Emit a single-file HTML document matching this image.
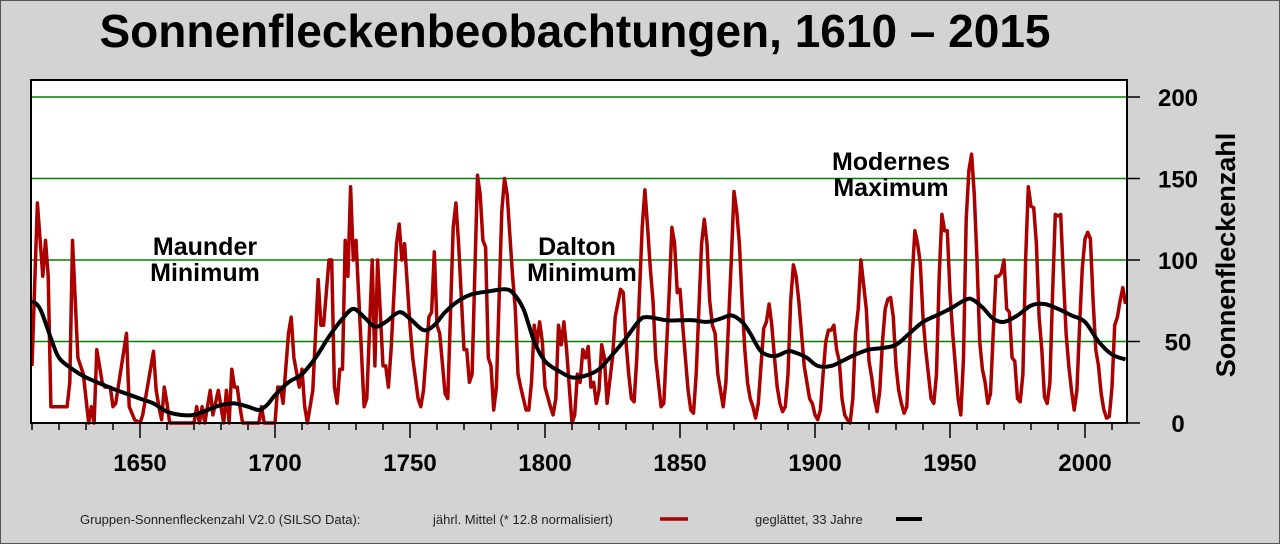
<!DOCTYPE html>
<html><head><meta charset="utf-8"><style>
html,body{margin:0;padding:0;background:#d3d3d3}
svg{display:block}
text{font-family:"Liberation Sans",sans-serif}
</style></head><body>
<svg id="s" width="1280" height="544" xmlns="http://www.w3.org/2000/svg">
<rect x="0.5" y="0.5" width="1279" height="543" fill="#d3d3d3" stroke="#555"/>
<text x="575" y="47" font-size="46" font-weight="bold" text-anchor="middle">Sonnenfleckenbeobachtungen, 1610 – 2015</text>
<rect x="31" y="80" width="1096" height="343" fill="#fff"/>
<g stroke="#008000" stroke-width="1.5" id="grid"></g>
<g id="ticks" stroke="#000" stroke-width="1.5"></g>
<g font-size="24" font-weight="bold" id="lbl"></g>
<text x="205" y="255" font-size="25" font-weight="bold" text-anchor="middle">Maunder</text>
<text x="205" y="281" font-size="25" font-weight="bold" text-anchor="middle">Minimum</text>
<text x="577" y="255" font-size="25" font-weight="bold" text-anchor="middle">Dalton</text>
<text x="582" y="281" font-size="25" font-weight="bold" text-anchor="middle">Minimum</text>
<text x="891" y="170" font-size="25" font-weight="bold" text-anchor="middle">Modernes</text>
<text x="891" y="196" font-size="25" font-weight="bold" text-anchor="middle">Maximum</text>
<path id="red" fill="none" stroke="#aa0000" stroke-width="3.5" stroke-linejoin="round"/>
<path id="blk" fill="none" stroke="#000" stroke-width="4"/>
<rect x="31" y="80" width="1096" height="343" fill="none" stroke="#000" stroke-width="2"/>
<text transform="translate(1235,255) rotate(-90)" font-size="27" font-weight="bold" text-anchor="middle">Sonnenfleckenzahl</text>
<text x="80" y="524" font-size="13" fill="#222">Gruppen-Sonnenfleckenzahl V2.0 (SILSO Data):</text>
<text x="433" y="524" font-size="13" fill="#222">jährl. Mittel (* 12.8 normalisiert)</text>
<line x1="660" y1="519" x2="688" y2="519" stroke="#aa0000" stroke-width="3.5"/>
<text x="755" y="524" font-size="13" fill="#222">geglättet, 33 Jahre</text>
<line x1="896" y1="519" x2="922" y2="519" stroke="#000" stroke-width="4"/>
</svg>
<script>
var X=function(y){return 32+(y-1610)*2.7},Y=function(v){return 423-v*1.63};
var ns="http://www.w3.org/2000/svg";
function el(p,t,a,txt){var e=document.createElementNS(ns,t);for(var k in a)e.setAttribute(k,a[k]);if(txt)e.textContent=txt;document.getElementById(p).appendChild(e);}
[50,100,150,200].forEach(function(v){el("grid","line",{x1:31,x2:1127,y1:Y(v),y2:Y(v)});});
for(var y=1610;y<=2015;y+=10){var big=y%50==0;el("ticks","line",{x1:X(y),x2:X(y),y1:423,y2:big?438:430});}
[1650,1700,1750,1800,1850,1900,1950,2000].forEach(function(y){el("lbl","text",{x:X(y),y:471,"text-anchor":"middle"},String(y));});
[0,50,100,150,200].forEach(function(v){el("ticks","line",{x1:1127,x2:1140,y1:Y(v),y2:Y(v)});el("lbl","text",{x:1178,y:Y(v)+9,"text-anchor":"middle"},String(v));});
var r=[1610,35,1612,135,1614,90,1615,112,1616,90,1617,10,1623,10,1624,25,1625,112,1627,40,1629,30,1631,0,1632,10,1633,0,1634,45,1636,25,1637,22,1639,22,1640,10,1641,12,1645,55,1646,10,1648,2,1650,0,1651,5,1655,44,1656,20,1657,10,1658,2,1659,22,1660,12,1661,0,1670,0,1671,10,1672,0,1673,10,1674,0,1676,20,1677,5,1679,20,1680,10,1681,0,1682,20,1683,0,1684,33,1685,22,1686,22,1687,10,1688,0,1694,0,1695,10,1696,0,1700,0,1701,22,1702,22,1703,12,1705,55,1706,65,1707,40,1709,22,1710,33,1711,10,1712,0,1714,20,1716,88,1717,60,1718,60,1720,100,1721,100,1722,22,1723,12,1724,33,1725,33,1726,112,1727,90,1728,145,1729,100,1730,112,1733,10,1734,15,1736,100,1737,35,1738,100,1740,35,1741,35,1742,22,1743,45,1745,110,1746,122,1747,100,1748,110,1750,60,1751,40,1753,15,1754,10,1755,20,1757,65,1758,68,1759,105,1760,60,1761,55,1763,18,1764,15,1766,120,1767,135,1768,110,1770,45,1771,45,1772,25,1773,30,1775,152,1776,140,1777,112,1778,108,1779,40,1780,35,1781,8,1782,22,1784,130,1785,150,1786,140,1788,90,1789,70,1790,30,1791,22,1792,15,1793,8,1794,8,1795,25,1796,60,1797,48];
var ext=[1798,62,1799,50,1800,22,1802,10,1803,5,1804,15,1805,60,1806,48,1807,62,1808,45,1809,22,1810,0,1811,5,1812,30,1813,25,1814,45,1815,40,1816,47,1817,22,1818,25,1819,12,1820,20,1821,48,1822,40,1823,12,1825,40,1826,65,1828,82,1829,80,1830,50,1831,30,1832,15,1833,13,1834,40,1836,120,1837,143,1838,120,1839,95,1840,75,1841,40,1842,25,1843,10,1844,12,1846,80,1847,120,1848,110,1849,80,1850,82,1851,60,1852,40,1853,20,1854,8,1855,6,1856,30,1858,110,1859,125,1860,110,1861,75,1862,60,1863,55,1864,30,1865,20,1866,10,1867,25,1869,100,1870,142,1871,130,1872,110,1873,75,1874,45,1875,25,1876,15,1877,10,1878,3,1879,12,1880,35,1881,58,1882,62,1883,73,1884,60,1885,40,1886,22,1887,12,1888,7,1889,10,1890,30,1891,75,1892,97,1893,90,1894,75,1895,55,1896,35,1897,25,1898,15,1899,12,1900,5,1901,2,1902,8,1903,30,1904,50,1905,57,1906,57,1907,60,1908,45,1909,38,1910,15,1911,5,1912,2,1913,0,1914,15,1915,55,1916,70,1917,100,1918,85,1919,70,1920,38,1921,28,1922,15,1923,7,1924,20,1925,50,1926,70,1927,76,1928,77,1929,65,1930,35,1931,20,1932,12,1933,6,1934,10,1935,45,1936,90,1937,118,1938,110,1939,98,1940,65,1941,45,1942,30,1943,15,1944,12,1945,30,1946,90,1947,128,1948,118,1949,118,1950,80,1951,55,1952,35,1953,15,1954,5,1955,40,1956,125,1957,155,1958,165,1959,140,1960,100,1961,50,1962,33,1963,25,1964,12,1965,18,1966,55,1967,90,1968,90,1969,92,1970,100,1971,70,1972,68,1973,40,1974,38,1975,15,1976,13,1977,30,1978,100,1979,145,1980,133,1981,132,1982,110,1983,65,1984,45,1985,16,1986,12,1987,25,1988,80,1989,128,1990,127,1991,128,1992,90,1993,55,1994,35,1995,20,1996,8,1997,20,1998,60,1999,95,2000,113,2001,117,2002,113,2003,75,2004,45,2005,35,2006,18,2007,8,2008,3,2009,4,2010,22,2011,60,2012,65,2013,75,2014,83,2015,73];
var pts=[];for(var i=0;i<r.length;i+=2){pts.push([r[i],r[i+1]]);}
for(var i=0;i<ext.length;i+=2)pts.push([ext[i],ext[i+1]]);
document.getElementById("red").setAttribute("d",pts.map(function(p,i){return(i?"L":"M")+X(p[0]).toFixed(1)+" "+Y(p[1]).toFixed(1)}).join(""));
var b=[1610,75,1613,70,1617,52,1620,40,1625,33,1630,28,1640,21,1650,15,1655,12,1660,7,1665,5,1670,5,1675,8,1680,11,1685,12,1690,10,1694,8,1697,11,1700,17,1705,25,1710,30,1715,40,1720,53,1725,64,1729,70,1733,65,1737,59,1741,62,1746,68,1750,64,1755,57,1759,60,1763,68,1768,75,1773,79,1780,81,1785,82,1788,80,1792,70,1796,50,1800,38,1805,32,1810,28,1815,29,1820,33,1825,42,1830,52,1835,63,1838,65,1845,63,1850,63,1855,63,1860,62,1865,64,1869,66,1873,62,1876,55,1880,44,1885,41,1890,44,1893,43,1897,40,1901,35,1906,35,1910,38,1915,42,1920,45,1925,46,1930,48,1935,55,1940,62,1945,66,1950,70,1955,75,1958,76,1962,71,1966,64,1970,62,1975,66,1980,72,1985,73,1990,70,1995,66,2000,62,2005,50,2010,42,2015,39];
var q=[];for(var i=0;i<b.length;i+=2)q.push([X(b[i]),Y(b[i+1])]);
var d="M"+q[0][0]+" "+q[0][1];
for(var i=0;i<q.length-1;i++){var p0=q[Math.max(0,i-1)],p1=q[i],p2=q[i+1],p3=q[Math.min(q.length-1,i+2)];
d+="C"+(p1[0]+(p2[0]-p0[0])/6).toFixed(1)+" "+(p1[1]+(p2[1]-p0[1])/6).toFixed(1)+","+(p2[0]-(p3[0]-p1[0])/6).toFixed(1)+" "+(p2[1]-(p3[1]-p1[1])/6).toFixed(1)+","+p2[0].toFixed(1)+" "+p2[1].toFixed(1);}
document.getElementById("blk").setAttribute("d",d);
</script>
</body></html>
